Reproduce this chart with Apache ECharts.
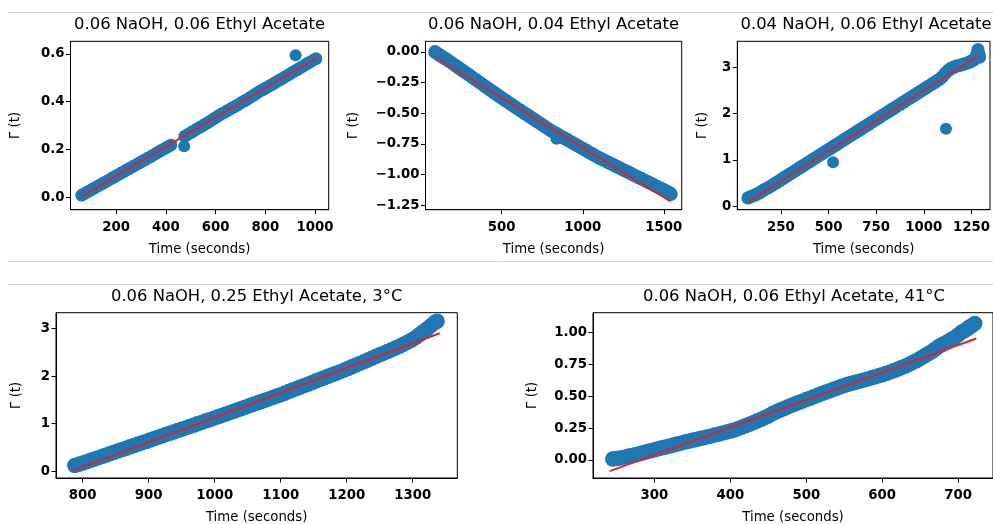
<!DOCTYPE html>
<html><head><meta charset="utf-8">
<script src="https://cdn.jsdelivr.net/npm/echarts@6/dist/echarts.min.js"></script>
<style>html,body{margin:0;padding:0;background:#fff}#c{width:993px;height:525px}</style>
</head><body><div id="c"></div>
<script>
// ---------- DATA ----------
const titles = [
  '0.06 NaOH, 0.06 Ethyl Acetate',
  '0.06 NaOH, 0.04 Ethyl Acetate',
  '0.04 NaOH, 0.06 Ethyl Acetate',
  '0.06 NaOH, 0.25 Ethyl Acetate, 3°C',
  '0.06 NaOH, 0.06 Ethyl Acetate, 41°C'
];
const xName = 'Time (seconds)';
const yName = 'Γ (t)';

const xTicks = [[200,400,600,800,1000],[500,1000,1500],[250,500,750,1000,1250],[800,900,1000,1100,1200,1300],[300,400,500,600,700]];
const yTicks = [[0,0.2,0.4,0.6],[-1.25,-1,-0.75,-0.5,-0.25,0],[0,1,2,3],[0,1,2,3],[0,0.25,0.5,0.75,1]];
const yDecimals = [1,2,0,0,2];

// Panel 1 : 0.06 NaOH, 0.06 Ethyl Acetate
const p1Points = [[62,0.008],[74,0.015],[86,0.022],[98,0.029],[110,0.036],[122,0.043],[134,0.050],[146,0.057],[158,0.064],[170,0.071],[182,0.078],[194,0.085],[206,0.092],[218,0.099],[230,0.106],[242,0.113],[254,0.120],[266,0.127],[278,0.134],[290,0.141],[302,0.148],[314,0.155],[326,0.162],[338,0.169],[350,0.176],[362,0.184],[374,0.191],[386,0.198],[398,0.205],[410,0.212],[421,0.218],
  [476,0.255],[488,0.262],[500,0.270],[512,0.277],[524,0.285],[536,0.292],[548,0.299],[560,0.307],[572,0.314],[584,0.322],[596,0.330],[608,0.338],[620,0.346],[632,0.353],[644,0.360],[656,0.367],[668,0.374],[680,0.381],[692,0.388],[704,0.396],[716,0.403],[728,0.410],[740,0.418],[752,0.426],[764,0.434],[776,0.442],[788,0.449],[800,0.456],[812,0.463],[824,0.470],[836,0.477],[848,0.485],[860,0.492],[872,0.499],[884,0.507],[896,0.514],[908,0.522],[920,0.529],[932,0.536],[944,0.544],[956,0.551],[968,0.559],[980,0.566],[992,0.573],[1004,0.580]];
const p1Outliers = [[474,0.213],[922,0.595]];
const p1Fit = [[62,0.003],[1007,0.584]];

// Panel 2 : 0.06 NaOH, 0.04 Ethyl Acetate
const p2Points = [[89,0.000],[100,-0.010],[120,-0.027],[140,-0.044],[160,-0.061],[180,-0.079],[200,-0.096],[220,-0.115],[240,-0.133],[260,-0.152],[280,-0.170],[300,-0.189],[320,-0.208],[340,-0.226],[360,-0.245],[380,-0.263],[400,-0.282],[420,-0.301],[440,-0.319],[460,-0.338],[480,-0.356],[500,-0.375],[520,-0.393],[540,-0.410],[560,-0.428],[580,-0.445],[600,-0.463],[620,-0.480],[640,-0.498],[660,-0.515],[680,-0.533],[700,-0.550],[720,-0.568],[740,-0.585],[760,-0.603],[780,-0.620],[800,-0.638],[820,-0.653],[840,-0.668],[860,-0.683],[880,-0.698],[900,-0.713],[920,-0.728],[940,-0.743],[960,-0.758],[980,-0.773],[1000,-0.788],[1020,-0.803],[1040,-0.818],[1060,-0.833],[1080,-0.848],[1100,-0.863],[1120,-0.876],[1140,-0.889],[1160,-0.902],[1180,-0.915],[1200,-0.928],[1220,-0.941],[1240,-0.954],[1260,-0.967],[1280,-0.980],[1300,-0.994],[1320,-1.007],[1340,-1.020],[1360,-1.033],[1380,-1.046],[1400,-1.059],[1420,-1.072],[1440,-1.086],[1460,-1.099],[1480,-1.112],[1500,-1.125],[1520,-1.139],[1537,-1.150],[1543,-1.160]];
const p2Outliers = [[838,-0.708],[848,-0.702]];
const p2Fit = [[89,-0.041],[1541,-1.218]];

// Panel 3 : 0.04 NaOH, 0.06 Ethyl Acetate
const p3Points = [[78,0.18],[93,0.21],[108,0.23],[123,0.26],[138,0.29],[153,0.33],[168,0.37],[183,0.40],[198,0.436],[213,0.475],[228,0.514],[243,0.553],[258,0.592],[273,0.632],[288,0.671],[303,0.710],[318,0.749],[333,0.788],[348,0.827],[363,0.866],[378,0.905],[393,0.944],[408,0.983],[423,1.023],[438,1.062],[453,1.101],[468,1.140],[483,1.179],[498,1.218],[513,1.257],[528,1.296],[543,1.335],[558,1.374],[573,1.414],[588,1.453],[603,1.492],[618,1.531],[633,1.570],[648,1.609],[663,1.648],[678,1.687],[693,1.726],[708,1.765],[723,1.805],[738,1.844],[753,1.883],[768,1.922],[783,1.961],[798,2.000],[813,2.039],[828,2.078],[843,2.117],[858,2.156],[873,2.196],[888,2.235],[903,2.274],[918,2.313],[933,2.352],[948,2.391],[963,2.430],[978,2.469],[993,2.508],[1008,2.547],[1023,2.587],[1038,2.626],[1053,2.665],[1068,2.704],[1083,2.743],[1098,2.80],[1113,2.87],[1128,2.93],[1143,2.98],[1158,3.00],[1173,3.03],[1188,3.04],[1203,3.06],[1218,3.08],[1233,3.10],[1248,3.13],[1263,3.16],[1273,3.22],[1280,3.30],[1284,3.38],[1288,3.28],[1292,3.22]];
const p3Outliers = [[524,0.95],[1116,1.675]];
const p3Fit = [[78,0.093],[1292,3.259]];

// Panel 4 : 0.06 NaOH, 0.25 Ethyl Acetate, 3°C
const p4Points = [[788,0.120],[794,0.145],[800,0.170],[806,0.199],[812,0.227],[818,0.256],[824,0.284],[830,0.313],[836,0.341],[842,0.370],[848,0.398],[854,0.427],[860,0.455],[866,0.484],[872,0.512],[878,0.541],[884,0.569],[890,0.598],[896,0.626],[902,0.655],[908,0.683],[914,0.712],[920,0.740],[926,0.769],[932,0.797],[938,0.826],[944,0.854],[950,0.883],[956,0.911],[962,0.940],[968,0.968],[974,0.997],[980,1.025],[986,1.054],[992,1.082],[998,1.111],[1004,1.140],[1010,1.169],[1016,1.198],[1022,1.228],[1028,1.257],[1034,1.287],[1040,1.316],[1046,1.345],[1052,1.375],[1058,1.404],[1064,1.434],[1070,1.463],[1076,1.492],[1082,1.522],[1088,1.551],[1094,1.581],[1100,1.610],[1106,1.642],[1112,1.675],[1118,1.707],[1124,1.740],[1130,1.772],[1136,1.804],[1142,1.837],[1148,1.869],[1154,1.902],[1160,1.934],[1166,1.966],[1172,1.999],[1178,2.031],[1184,2.064],[1190,2.096],[1196,2.128],[1202,2.162],[1208,2.198],[1214,2.234],[1220,2.270],[1226,2.306],[1232,2.342],[1238,2.378],[1244,2.414],[1250,2.450],[1256,2.486],[1262,2.522],[1268,2.558],[1274,2.594],[1280,2.630],[1286,2.672],[1292,2.714],[1298,2.756],[1304,2.812],[1310,2.875],[1316,2.938],[1322,3.000],[1328,3.070],[1334,3.138],[1337,3.160]];
const p4Outliers = [];
const p4Fit = [[786,0.015],[1341,2.905]];

// Panel 5 : 0.06 NaOH, 0.06 Ethyl Acetate, 41°C
const p5Points = [[245,0.008],[250,0.012],[255,0.016],[260,0.022],[265,0.028],[270,0.034],[275,0.041],[280,0.048],[285,0.056],[290,0.064],[295,0.072],[300,0.080],[305,0.087],[310,0.095],[315,0.102],[320,0.110],[325,0.117],[330,0.125],[335,0.132],[340,0.140],[345,0.147],[350,0.154],[355,0.161],[360,0.168],[365,0.175],[370,0.182],[375,0.189],[380,0.197],[385,0.204],[390,0.211],[395,0.219],[400,0.227],[405,0.236],[410,0.246],[415,0.256],[420,0.268],[425,0.280],[430,0.292],[435,0.305],[440,0.318],[445,0.331],[450,0.346],[455,0.362],[460,0.376],[465,0.390],[470,0.403],[475,0.415],[480,0.428],[485,0.440],[490,0.451],[495,0.462],[500,0.474],[505,0.485],[510,0.497],[515,0.508],[520,0.520],[525,0.531],[530,0.542],[535,0.553],[540,0.564],[545,0.575],[550,0.585],[555,0.594],[560,0.603],[565,0.611],[570,0.619],[575,0.627],[580,0.635],[585,0.643],[590,0.652],[595,0.661],[600,0.670],[605,0.680],[610,0.690],[615,0.700],[620,0.712],[625,0.724],[630,0.737],[635,0.750],[640,0.765],[645,0.780],[650,0.797],[655,0.815],[660,0.832],[665,0.850],[670,0.872],[675,0.893],[680,0.909],[685,0.925],[690,0.942],[695,0.960],[700,0.982],[705,1.005],[709,1.018],[712,1.030],[715,1.042],[718,1.055],[722,1.072]];
const p5Outliers = [];
const p5Fit = [[241,-0.088],[724,0.954]];

const pointSets = [p1Points,p2Points,p3Points,p4Points,p5Points];
const outlierSets = [p1Outliers,p2Outliers,p3Outliers,p4Outliers,p5Outliers];
const fitSets = [p1Fit,p2Fit,p3Fit,p4Fit,p5Fit];

// ---------- LAYOUT / STYLE ----------
const layout = [
  {left:70.5, top:41.3, width:258.2, height:168.4, xMin:17,    xMax:1055,   yMin:-0.053, yMax:0.653, yGap:48,   tx:199.6, ty:25,  band:12.7},
  {left:425.5,top:41.3, width:256.2, height:168.4, xMin:30.5,  xMax:1610,   yMin:-1.286, yMax:0.087, yGap:65.5, tx:553.6, ty:25,  band:13.7},
  {left:737.3,top:41.3, width:257.7, height:168.4, xMin:21.6,  xMax:1347,   yMin:-0.073, yMax:3.56,  yGap:28,   tx:866,   ty:25,  band:13.3},
  {left:56,   top:312.7,width:401.3, height:168,   xMin:759.5, xMax:1367.6, yMin:-0.145, yMax:3.338, yGap:33,   tx:256.7, ty:297, band:15.5},
  {left:593,  top:312.7,width:402,   height:168,   xMin:219,   xMax:746,    yMin:-0.142, yMax:1.157, yGap:53.8, tx:794,   ty:297, band:15.5}
];
const FONT = 'DejaVu Sans';
const BLUE = '#1f77b4', RED = '#d62728';

const grid=[], xAxis=[], yAxis=[], series=[], title=[];
layout.forEach((L,i)=>{
  grid.push({left:L.left, top:L.top, width:L.width, height:L.height, show:true, borderColor:'#000', borderWidth:1, containLabel:false});
  title.push({text:titles[i], left:L.tx, top:L.ty, padding:0, textAlign:'center', textVerticalAlign:'middle',
    textStyle:{fontFamily:FONT, fontSize:16.4, fontWeight:'normal', color:'#000'}});
  xAxis.push({gridIndex:i, type:'value', min:L.xMin, max:L.xMax,
    name:xName, nameLocation:'middle', nameGap:33,
    nameTextStyle:{fontFamily:FONT, fontSize:13.3, color:'#000'},
    axisLine:{show:true, onZero:false, lineStyle:{color:'#000', width:1}},
    axisTick:{show:true, length:4.5, lineStyle:{color:'#000', width:1}, customValues:xTicks[i]},
    axisLabel:{customValues:xTicks[i], margin:11.5, fontFamily:FONT, fontWeight:'bold', fontSize:13.3, color:'#000',
      formatter:v=>String(v)},
    splitLine:{show:false}});
  const d = yDecimals[i];
  yAxis.push({gridIndex:i, type:'value', min:L.yMin, max:L.yMax,
    name:yName, nameLocation:'middle', nameGap:L.yGap,
    nameTextStyle:{fontFamily:FONT, fontSize:13.3, color:'#000'},
    axisLine:{show:true, onZero:false, lineStyle:{color:'#000', width:1}},
    axisTick:{show:true, length:4.5, lineStyle:{color:'#000', width:1}, customValues:yTicks[i]},
    axisLabel:{customValues:yTicks[i], margin:6, fontFamily:FONT, fontWeight:'bold', fontSize:13.3, color:'#000',
      formatter:v=>{ const a=Math.abs(v).toFixed(d); return (v<-1e-9?'\u2212':'')+a; }},
    splitLine:{show:false}});
  const scatterStyle = {color:BLUE, opacity:1, borderWidth:0};
  series.push({type:'scatter', xAxisIndex:i, yAxisIndex:i, data:pointSets[i], symbol:'circle', symbolSize:L.band,
    itemStyle:scatterStyle, emphasis:{disabled:true}, z:2, clip:false});
  series.push({type:'scatter', xAxisIndex:i, yAxisIndex:i, data:outlierSets[i], symbol:'circle', symbolSize:12,
    itemStyle:scatterStyle, emphasis:{disabled:true}, z:2, clip:false});
  series.push({type:'line', xAxisIndex:i, yAxisIndex:i, data:fitSets[i], symbol:'none',
    lineStyle:{color:RED, width:2}, emphasis:{disabled:true}, z:3});
});

const sepLines = [12.5, 261.5, 284.5];
const graphic = sepLines.map(y=>({type:'line', shape:{x1:8,y1:y,x2:993,y2:y}, style:{stroke:'#d9d9d9', lineWidth:1}, silent:true}));

const chart = echarts.init(document.getElementById('c'), null, {renderer:'canvas'});
chart.setOption({animation:false, backgroundColor:'#fff', title, grid, xAxis, yAxis, series, graphic, tooltip:{show:false}});
</script></body></html>
